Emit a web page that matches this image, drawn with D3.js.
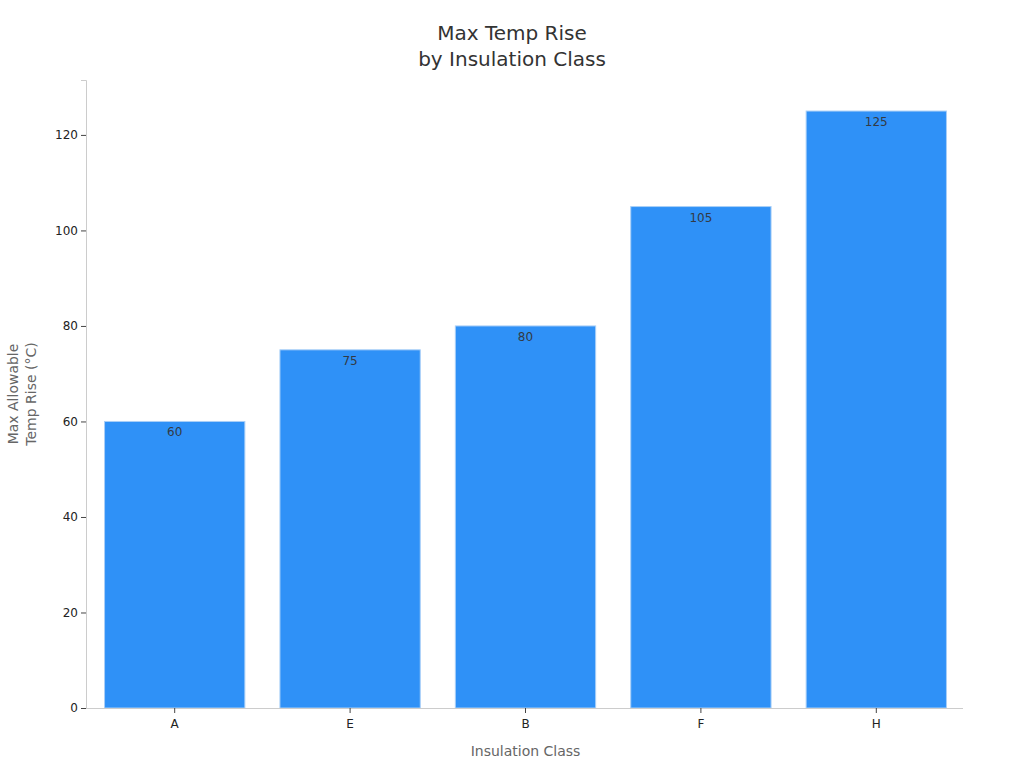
<!DOCTYPE html>
<html><head><meta charset="utf-8">
<script src="https://cdn.jsdelivr.net/npm/d3@7"></script>
<style>body{margin:0;background:#fff}svg{font-family:"DejaVu Sans",sans-serif}</style>
</head><body>
<svg id="c" width="1024" height="768"></svg>
<script>
const categories = ["A","E","B","F","H"];
const values = [60,75,80,105,125];
const yTicks = [0,20,40,60,80,100,120];

const svg = d3.select("#c");
const m = {l:86, r:963, t:80, b:708};
const x = d3.scaleBand().domain(categories).range([m.l+1, m.r+1]).paddingInner(0.2).paddingOuter(0.1);
const y = d3.scaleLinear().domain([0, 131.5]).range([m.b, m.t]);

// bars
svg.selectAll("rect.bar").data(categories).join("rect")
  .attr("class","bar")
  .attr("x", d=>x(d)).attr("width", x.bandwidth())
  .attr("y", (d,i)=>y(values[i])).attr("height", (d,i)=>y(0)-y(values[i]))
  .attr("fill","#2f91f7").attr("stroke","#a9cff7").attr("stroke-width",1);

svg.selectAll("text.val").data(categories).join("text")
  .attr("class","val")
  .attr("x", d=>x(d)+x.bandwidth()/2)
  .attr("y", (d,i)=>y(values[i])+15)
  .attr("text-anchor","middle").attr("font-size",12).attr("fill","#333a44")
  .text((d,i)=>values[i]);

// y axis
const ya = svg.append("g").attr("transform",`translate(${m.l},0)`)
  .call(d3.axisLeft(y).tickValues(yTicks).tickSize(5).tickPadding(3));
ya.select(".domain").attr("stroke","#ccc");
ya.selectAll(".tick line").attr("stroke","#444");
ya.selectAll(".tick text").attr("font-size",12).attr("fill","#222").attr("font-family","DejaVu Sans");

// x axis
const xa = svg.append("g").attr("transform",`translate(0,${m.b})`)
  .call(d3.axisBottom(x).tickSize(5).tickPadding(6).tickSizeOuter(0));
xa.select(".domain").attr("stroke","#ccc").attr("d",`M${m.l},0.5H${m.r}`);
xa.selectAll(".tick line").attr("stroke","#444");
xa.selectAll(".tick text").attr("font-size",12).attr("fill","#222").attr("font-family","DejaVu Sans");

// titles
const title = svg.append("text").attr("text-anchor","middle").attr("font-size",20).attr("fill","#333");
title.append("tspan").attr("x",512).attr("y",40).text("Max Temp Rise");
title.append("tspan").attr("x",512).attr("y",66).text("by Insulation Class");

svg.append("text").attr("x",(m.l+m.r)/2+1).attr("y",756).attr("text-anchor","middle")
  .attr("font-size",14).attr("fill","#666").text("Insulation Class");

const yl = svg.append("text").attr("transform",`translate(0,${(m.t+m.b)/2}) rotate(-90)`)
  .attr("text-anchor","middle").attr("font-size",14).attr("fill","#666");
yl.append("tspan").attr("x",0).attr("y",18).text("Max Allowable");
yl.append("tspan").attr("x",0).attr("y",36).text("Temp Rise (°C)");
</script>
</body></html>
